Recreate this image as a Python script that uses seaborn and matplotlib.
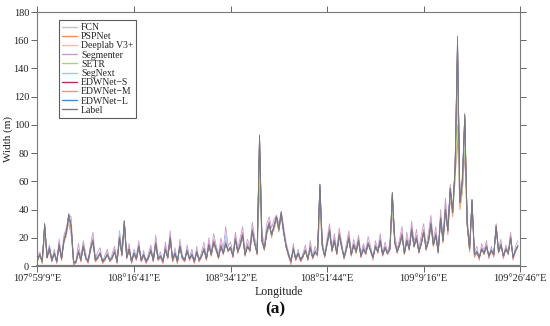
import matplotlib
matplotlib.use('Agg')
import matplotlib.pyplot as plt
import pandas as pd
import seaborn as sns

# sampled width profile along the river, one value every 5 steps
label = """4 8 3 30 6 12 4 9 3 15 5 18 24 37 28 2 3 10 4 14
6 3 12 18 4 6 9 3 5 8 4 6 10 3 20 8 32 6 12 3
9 5 14 4 8 3 6 11 4 16 5 7 3 12 6 20 4 9 3 14
6 4 11 5 8 3 10 4 7 12 5 15 8 17 12 6 14 9 16 11
13 7 19 10 15 22 8 14 11 25 16 9 93 18 12 24 30 22 28 35
26 38 24 14 8 3 12 5 9 4 7 11 5 13 6 10 8 58 14 7
16 25 11 18 9 22 14 6 12 20 8 15 10 18 7 12 9 16 11 6
14 10 18 8 13 9 12 52 17 10 15 22 9 18 12 26 14 20 10 16
24 12 18 30 15 22 10 34 18 40 25 55 38 70 163 45 60 108 30 12
47 8 10 6 12 9 14 7 11 8 28 10 15 7 12 9 20 6 11 14"""

fcn = """5 7 4 26 8 10 3 11 2 13 6 16 21 33 25 3 4 12 5 12
7 2 10 16 5 8 7 4 6 10 3 7 12 4 17 9 28 5 10 4
8 6 12 5 9 2 7 13 3 14 6 8 4 10 7 18 5 8 4 12
7 5 9 6 10 4 8 5 9 10 6 13 9 15 10 7 12 10 14 12
11 8 17 12 13 20 9 12 13 22 15 10 80 16 14 22 27 24 25 32
28 34 22 15 9 4 10 6 8 5 8 10 6 11 7 12 9 50 12 8
14 22 12 16 10 20 12 7 14 18 9 13 11 16 8 13 10 14 12 7
12 11 16 9 12 10 13 45 15 11 14 20 10 16 13 24 13 18 11 15
22 13 16 27 14 20 11 30 16 36 28 50 42 65 120 50 55 90 34 11
40 9 11 7 11 10 12 8 10 9 25 11 13 8 11 10 18 7 12 13"""

pspnet = """3 9 2 22 7 14 5 8 4 17 4 20 26 30 22 1 2 11 3 16
5 4 14 20 3 5 10 2 4 9 5 5 11 2 22 7 26 7 14 2
10 4 15 3 7 4 5 12 5 18 4 6 2 14 5 22 3 10 2 15
5 3 12 4 9 2 11 3 8 13 4 17 7 19 13 5 16 8 18 10
14 6 21 9 17 24 7 16 10 27 17 8 60 20 11 26 32 20 30 33
24 36 26 13 7 2 14 4 10 3 6 12 4 15 5 11 7 40 15 6
18 27 10 20 8 24 15 5 13 22 7 16 9 20 6 14 8 17 10 5
15 9 20 7 14 8 13 38 19 9 16 24 8 20 11 28 15 22 9 18
26 11 20 32 14 24 9 36 17 44 22 48 35 62 90 40 52 80 28 10
42 6 9 5 13 8 15 6 12 7 30 9 16 6 13 8 22 5 10 15"""

deeplab = """4 7 3 25 5 11 4 10 3 14 5 17 22 34 26 2 3 9 4 13
6 3 11 17 4 7 8 3 5 7 4 6 9 3 19 8 30 6 11 3
9 5 13 4 8 3 6 10 4 15 5 7 3 11 6 19 4 9 3 13
6 4 10 5 8 3 9 4 7 11 5 14 8 16 11 6 13 9 15 10
12 7 18 10 14 21 8 13 11 24 15 9 70 17 12 23 29 21 27 34
25 36 23 14 8 3 11 5 9 4 7 10 5 12 6 10 8 48 13 7
15 24 11 17 9 21 13 6 12 19 8 14 10 17 7 12 9 15 11 6
13 10 17 8 12 9 12 42 16 10 14 21 9 17 12 25 13 19 10 15
23 12 17 29 14 21 10 32 17 38 24 52 36 66 130 42 58 95 29 11
44 8 10 6 11 9 13 7 10 8 26 10 14 7 11 9 19 6 10 13"""

segmenter = """6 10 2 28 9 15 3 12 2 19 7 22 27 36 35 1 4 16 6 18
9 2 15 24 6 10 13 2 8 12 3 9 14 2 25 11 31 8 16 2
12 7 18 3 11 2 9 15 3 22 7 10 2 17 8 25 3 13 2 19
8 3 15 6 12 2 14 3 10 17 6 20 10 23 15 8 20 12 28 14
17 9 24 13 20 28 10 19 14 31 20 12 92 24 15 30 35 27 33 36
30 39 28 17 10 1 16 4 12 3 9 15 4 18 7 14 10 56 18 8
20 30 13 23 11 27 17 5 16 25 10 19 12 22 8 16 11 21 14 4
18 12 23 9 17 10 16 50 22 12 19 28 10 24 14 32 17 26 12 22
30 14 24 36 18 28 12 40 20 48 28 58 40 72 160 48 65 106 34 14
46 10 14 4 16 11 18 5 14 6 29 12 19 5 15 10 24 4 14 18"""

setr = """4 8 3 24 6 12 4 9 3 14 5 17 23 32 27 3 3 10 4 13
6 3 12 17 4 6 9 3 5 8 4 6 10 3 18 8 27 6 12 3
9 5 13 4 8 3 6 11 4 15 5 7 3 12 6 18 4 9 3 13
6 4 11 5 8 3 10 4 7 12 5 14 8 16 12 6 14 9 15 11
13 7 18 10 15 21 8 14 11 24 16 9 55 18 12 23 29 22 27 33
26 35 24 14 8 3 12 5 9 4 7 11 5 13 6 10 8 44 14 7
16 24 11 18 9 21 14 6 12 19 8 15 10 17 7 12 9 16 11 6
14 10 17 8 13 9 12 40 17 10 15 21 9 18 12 25 14 20 10 16
24 12 18 28 15 22 10 32 18 38 25 50 38 60 100 44 55 85 30 12
42 8 10 6 12 9 14 7 11 8 26 10 15 7 12 9 19 6 11 14"""

segnext = """5 9 4 27 7 13 5 10 4 16 6 19 24 35 27 3 4 11 5 15
7 4 13 19 5 7 10 4 6 9 5 7 11 4 24 9 30 7 13 4
10 6 15 5 9 4 7 12 5 17 6 8 4 13 7 21 5 10 4 15
7 5 12 6 9 4 11 5 8 13 6 16 9 18 13 7 15 10 22 12
14 8 20 11 16 23 9 15 12 26 17 10 85 19 13 25 31 23 29 34
27 37 25 15 9 4 13 6 10 5 8 12 6 14 7 11 9 54 15 8
17 26 12 19 10 23 15 7 13 21 9 16 11 19 8 13 10 17 12 7
15 11 19 9 14 10 13 48 18 11 16 23 10 19 13 27 15 21 11 17
25 13 19 31 16 23 11 35 19 41 26 54 39 68 140 46 61 100 31 13
45 9 11 7 13 10 15 8 12 9 28 11 16 8 13 10 21 7 12 15"""

edw_s = """4 8 3 29 6 12 4 9 3 15 5 18 24 36 28 2 3 10 4 14
6 3 12 18 4 6 9 3 5 8 4 6 10 3 20 8 31 6 12 3
9 5 14 4 8 3 6 11 4 16 5 7 3 12 6 20 4 9 3 14
6 4 11 5 8 3 10 4 7 12 5 15 8 17 12 6 14 9 16 11
13 7 19 10 15 22 8 14 11 25 16 9 90 18 12 24 30 22 28 35
26 37 24 14 8 3 12 5 9 4 7 11 5 13 6 10 8 57 14 7
16 25 11 18 9 22 14 6 12 20 8 15 10 18 7 12 9 16 11 6
14 10 18 8 13 9 12 51 17 10 15 22 9 18 12 26 14 20 10 16
24 12 18 30 15 22 10 34 18 40 25 55 38 70 155 45 60 104 30 12
46 8 10 6 12 9 14 7 11 8 28 10 15 7 12 9 20 6 11 14"""

edw_m = """3 9 2 29 7 11 3 10 2 16 4 19 25 37 27 1 2 11 3 15
5 2 13 19 3 5 10 2 4 9 3 5 11 2 21 7 32 5 13 2
8 4 15 3 7 2 5 12 3 17 4 6 2 13 5 21 3 8 2 15
5 3 12 4 7 2 11 3 6 13 4 16 7 18 13 5 15 8 17 10
14 6 20 9 16 23 7 15 10 26 17 8 91 19 11 25 31 21 29 36
25 38 25 13 7 2 13 4 8 3 6 12 4 14 5 9 7 57 15 6
17 26 10 19 8 23 15 5 11 21 7 16 9 19 6 11 8 17 10 5
15 9 19 7 14 8 11 52 18 9 16 23 8 19 11 27 15 21 9 17
25 11 19 31 14 23 9 35 17 41 24 56 37 71 158 44 61 106 29 11
47 7 9 5 13 8 15 6 10 7 29 9 16 6 13 8 21 5 10 15"""

edw_l = """5 8 4 30 6 13 4 9 4 15 5 18 24 36 28 3 3 10 5 14
6 4 12 18 5 6 9 4 5 8 4 6 10 4 20 8 32 6 12 4
9 5 14 5 8 4 6 11 4 16 5 7 4 12 6 20 5 9 4 14
6 5 11 5 8 4 10 5 7 12 5 15 8 17 12 6 14 9 16 11
13 7 19 10 15 22 8 14 11 25 16 9 92 18 12 24 30 22 28 35
26 38 24 14 8 4 12 5 9 5 7 11 5 13 6 10 8 58 14 7
16 25 11 18 9 22 14 6 12 20 8 15 10 18 7 12 9 16 11 6
14 10 18 8 13 9 12 52 17 10 15 22 9 18 12 26 14 20 10 16
24 12 18 30 15 22 10 34 18 40 25 55 38 70 160 45 60 107 30 12
47 8 10 6 12 9 14 7 11 8 28 10 15 7 12 9 20 6 11 14"""

models = ['FCN', 'PSPNet', 'Deeplab V3+', 'Segmenter', 'SETR', 'SegNext',
          'EDWNet\u2212S', 'EDWNet\u2212M', 'EDWNet\u2212L', 'Label']
series = [fcn, pspnet, deeplab, segmenter, setr, segnext, edw_s, edw_m, edw_l, label]
colors = ['#c4c4c4', '#f08a6c', '#f5c56e', '#c79bd6', '#a5d67a', '#8fd0f5',
          '#b5325e', '#ff8a8a', '#4a86c8', '#7a7a7a']

tick_pos = [0, 200, 400, 600, 800, 1000]
tick_labels = ['107\u00b059\u20329\u2033E', '108\u00b016\u203241\u2033E', '108\u00b034\u203212\u2033E',
               '108\u00b051\u203244\u2033E', '109\u00b09\u203216\u2033E', '109\u00b026\u203246\u2033E']

rows = []
for name, s in zip(models, series):
    vals = [float(v) for v in s.split()]
    for i, v in enumerate(vals):
        rows.append({'pos': i * 5, 'width': v, 'model': name})
df = pd.DataFrame(rows)

sns.set_theme(style='ticks')
plt.rcParams['font.family'] = ['Liberation Serif', 'DejaVu Serif']

fig = plt.figure(figsize=(5.5, 3.26), dpi=100)
ax = fig.add_axes([0.068, 0.184, 0.878, 0.779])
sns.lineplot(data=df, x='pos', y='width', hue='model', hue_order=models,
             palette=colors, linewidth=0.6, ax=ax)

ax.set_xlim(0, 1000)
ax.set_ylim(0, 180)
ax.set_xticks(tick_pos)
ax.set_xticklabels(tick_labels)
ax.set_yticks(range(0, 181, 20))
ax.tick_params(axis='both', labelsize=7.5, direction='out', length=4, width=0.7, pad=2,
               colors='#666666', labelcolor='#222222',
               top=True, right=True, labeltop=False, labelright=False)
for sp in ax.spines.values():
    sp.set_visible(True)
    sp.set_color('#7a7a7a')
    sp.set_linewidth(0.8)
ax.spines['bottom'].set_linewidth(1.6)
ax.set_xlabel('Longitude', fontsize=8.5, color='#222222', labelpad=2)
ax.set_ylabel('Width (m)', fontsize=8, color='#222222')
ax.yaxis.set_label_coords(-0.05, 0.5)

leg = ax.legend(loc='upper left', bbox_to_anchor=(0.044, 0.968), fontsize=7,
                frameon=True, fancybox=False, handlelength=1.6, handletextpad=0.4,
                labelspacing=0.02, borderpad=0.3, borderaxespad=0)
leg.get_frame().set_edgecolor('#333333')
leg.get_frame().set_linewidth(0.8)
for line in leg.get_lines():
    line.set_linewidth(1.0)

fig.text(0.5, 0.052, '(a)', ha='center', va='center', fontsize=12.5, fontweight='bold',
         color='#111111')

fig.savefig('out.png', dpi=100)
